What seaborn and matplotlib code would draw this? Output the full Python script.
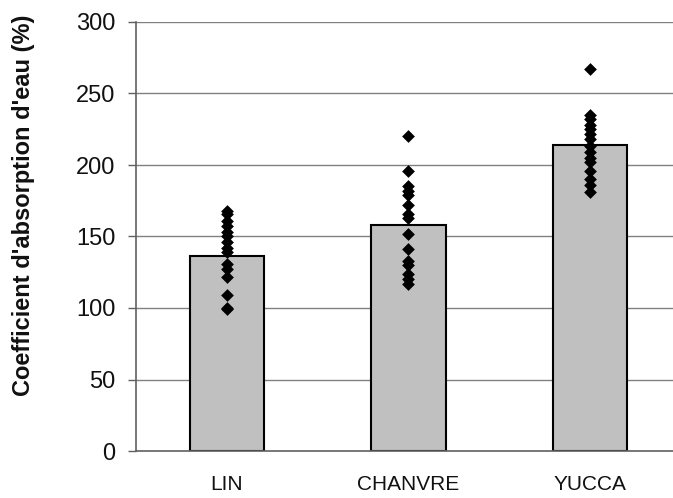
import matplotlib
matplotlib.use("Agg")
import matplotlib.pyplot as plt
import seaborn as sns
import pandas as pd

categories = ["LIN", "CHANVRE", "YUCCA"]
bar_means = [136.5, 158, 214]
lin_pts = [168, 166, 161, 157, 153, 150, 146, 142, 139, 131, 127, 122, 109, 100, 99]
chanvre_pts = [220, 196, 185, 182, 179, 172, 166, 163, 152, 141, 133, 130, 124, 120, 117]
yucca_pts = [267, 235, 232, 228, 225, 222, 218, 213, 209, 205, 202, 196, 190, 186, 181]
y_ticks = [0, 50, 100, 150, 200, 250, 300]

sns.set_theme(style="white")
plt.rcParams['font.family'] = ['Liberation Sans', 'DejaVu Sans']

bars = pd.DataFrame({"cat": categories, "val": bar_means})
pts = pd.DataFrame({
    "cat": ["LIN"] * len(lin_pts) + ["CHANVRE"] * len(chanvre_pts) + ["YUCCA"] * len(yucca_pts),
    "val": lin_pts + chanvre_pts + yucca_pts,
})

fig = plt.figure(figsize=(6.73, 4.98), dpi=100)
ax = fig.add_axes([136 / 673, 47 / 498, 537 / 673, 429 / 498])

for y in y_ticks[1:]:
    ax.axhline(y, color="#808080", lw=1.0, zorder=0)

sns.barplot(data=bars, x="cat", y="val", order=categories, color="#C0C0C0",
            edgecolor="black", linewidth=1.5, width=0.41, ax=ax, zorder=2,
            saturation=1)
sns.stripplot(data=pts, x="cat", y="val", order=categories, jitter=False,
              marker="D", color="black", size=6.5, ax=ax, zorder=3)

ax.set_xlim(-0.5, 2.456)
ax.set_ylim(0, 300)
ax.set_yticks(y_ticks)
ax.tick_params(axis="y", direction="out", length=5.8, width=1, color="#606060",
               labelsize=17, pad=9, left=True, labelcolor="#111111")
ax.tick_params(axis="x", length=0, labelsize=15, pad=17, labelcolor="#111111")
ax.set_xlabel("")
ax.set_ylabel("")
fig.text(24 / 673, 1 - 205 / 498, "Coefficient d'absorption d'eau (%)",
         rotation=90, ha="center", va="center", fontsize=17, fontweight="bold",
         color="#111111")
for s in ["top", "right"]:
    ax.spines[s].set_visible(False)
for s in ["left", "bottom"]:
    ax.spines[s].set_color("#606060")
    ax.spines[s].set_linewidth(1.2)

fig.savefig("out.png", dpi=100)
